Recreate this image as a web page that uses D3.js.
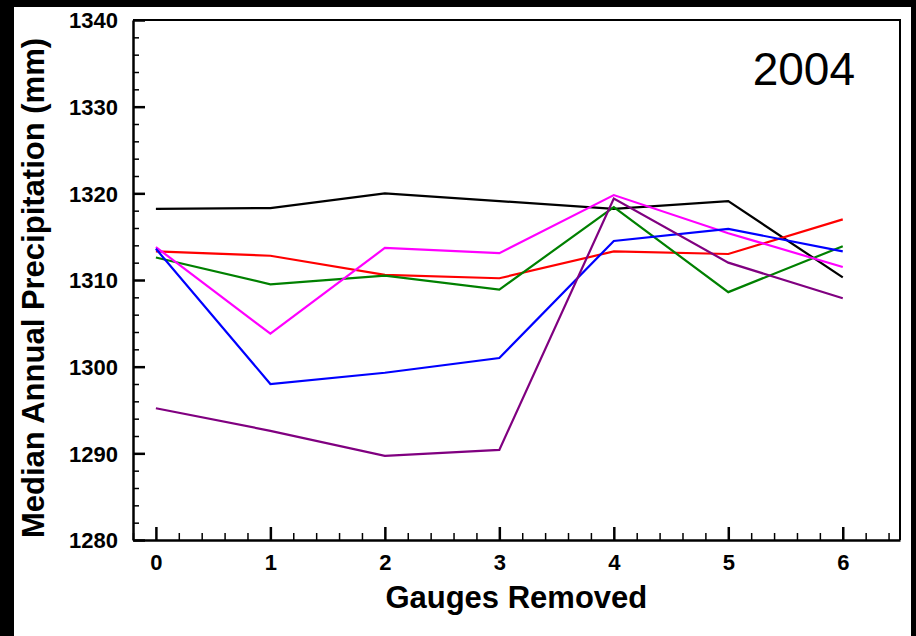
<!DOCTYPE html>
<html lang="en">
<head>
  <meta charset="UTF-8">
  <title>Median Annual Precipitation 2004</title>
  <script src="https://d3js.org/d3.v7.min.js"></script>
  <style>
    body {
  margin: 0;
  background: #000;
  overflow: hidden;
}

text {
  font-family: "Liberation Sans", Arial, Helvetica, sans-serif;
}

.tick text {
  font-size: 22px;
  font-weight: bold;
  fill: #000;
}

.axis-title {
  font-size: 31px;
  font-weight: bold;
}

.series {
  fill: none;
  stroke-width: 2.2;
  stroke-linejoin: miter;
}
  </style>
</head>
<body>
  <div id="chart"></div>

  <script>
    // gauges removed (x) and the six series
    const gauges = [0, 1, 2, 3, 4, 5, 6];
    const seriesColors = ["#000000", "#ff0000", "#008000", "#ff00ff", "#0000ff", "#800080"];
    const blackSeries   = [1318.2, 1318.3, 1320.0, 1319.1, 1318.2, 1319.1, 1310.3];
    const redSeries     = [1313.3, 1312.8, 1310.6, 1310.2, 1313.3, 1313.0, 1317.0];
    const greenSeries   = [1312.6, 1309.5, 1310.5, 1308.9, 1318.4, 1308.6, 1313.9];
    const magentaSeries = [1313.8, 1303.8, 1313.7, 1313.1, 1319.8, 1315.4, 1311.5];
    const blueSeries    = [1313.6, 1298.0, 1299.3, 1301.0, 1314.5, 1315.9, 1313.3];
    const purpleSeries  = [1295.2, 1292.6, 1289.7, 1290.4, 1319.4, 1312.0, 1307.9];
    const yMajorTicks = [1280, 1290, 1300, 1310, 1320, 1330, 1340];
    const panelLabel = "2004";

    const allSeries = [blackSeries, redSeries, greenSeries, magentaSeries, blueSeries, purpleSeries];

    const width = 916, height = 636;
    const mLeft = 133, mRight = 900, mTop = 20, mBottom = 540;

    const svg = d3.select("#chart")
      .append("svg")
      .attr("width", width)
      .attr("height", height);

    svg.append("rect")
      .attr("width", width).attr("height", height)
      .attr("fill", "#000");

    svg.append("rect")
      .attr("x", 14).attr("y", 7)
      .attr("width", 897).attr("height", height - 7)
      .attr("fill", "#fff");

    const x = d3.scaleLinear().domain([-0.2, 6.5]).range([mLeft, mRight]);
    const y = d3.scaleLinear().domain([1280, 1340]).range([mBottom, mTop]);

    // minor ticks
    const xMinor = d3.range(-0.2, 6.5, 0.2).filter(v => Math.abs(v - Math.round(v)) > 0.01);
    const yMinor = d3.range(1282, 1340, 2).filter(v => v % 10 !== 0);

    svg.append("g")
      .attr("transform", `translate(0,${mBottom})`)
      .call(d3.axisBottom(x).tickValues(xMinor).tickSize(-7).tickFormat(""))
      .call(g => g.select(".domain").remove())
      .selectAll("line").attr("stroke-width", 1.5);

    svg.append("g")
      .attr("transform", `translate(${mLeft},0)`)
      .call(d3.axisLeft(y).tickValues(yMinor).tickSize(-6).tickFormat(""))
      .call(g => g.select(".domain").remove())
      .selectAll("line").attr("stroke-width", 1.5);

    // major ticks + labels
    const xAxis = svg.append("g")
      .attr("transform", `translate(0,${mBottom})`)
      .call(d3.axisBottom(x).tickValues(gauges).tickSize(-13).tickSizeOuter(0).tickPadding(0).tickFormat(d3.format("d")));
    xAxis.select(".domain").attr("stroke-width", 2.5);
    xAxis.selectAll(".tick line").attr("stroke-width", 2.5);
    xAxis.selectAll(".tick text").attr("y", 30).attr("dy", null);

    const yAxis = svg.append("g")
      .attr("transform", `translate(${mLeft},0)`)
      .call(d3.axisLeft(y).tickValues(yMajorTicks).tickSize(-12).tickSizeOuter(0).tickFormat(d3.format("d")));
    yAxis.select(".domain").attr("stroke-width", 2.5);
    yAxis.selectAll(".tick line").attr("stroke-width", 2.5);
    yAxis.selectAll(".tick text").attr("x", -15).attr("dy", "0.36em");

    // top and right frame
    svg.append("path")
      .attr("d", `M${mLeft},${mTop}H${mRight}V${mBottom}`)
      .attr("fill", "none")
      .attr("stroke", "#000")
      .attr("stroke-width", 2);

    const line = d3.line()
      .x((d, i) => x(gauges[i]))
      .y(d => y(d));

    svg.append("g")
      .selectAll("path")
      .data(allSeries)
      .join("path")
      .attr("class", "series")
      .attr("stroke", (d, i) => seriesColors[i])
      .attr("d", line);

    svg.append("text")
      .attr("x", 855).attr("y", 85)
      .attr("text-anchor", "end")
      .style("font-size", "46px")
      .text(panelLabel);

    svg.append("text")
      .attr("class", "axis-title")
      .attr("x", (x(0) + x(6)) / 2 + 17)
      .attr("y", 608)
      .attr("text-anchor", "middle")
      .text("Gauges Removed");

    svg.append("text")
      .attr("class", "axis-title")
      .attr("transform", `translate(44,${(mTop + mBottom) / 2 + 8}) rotate(-90)`)
      .attr("text-anchor", "middle")
      .text("Median Annual Precipitation (mm)");
  </script>
</body>
</html>
